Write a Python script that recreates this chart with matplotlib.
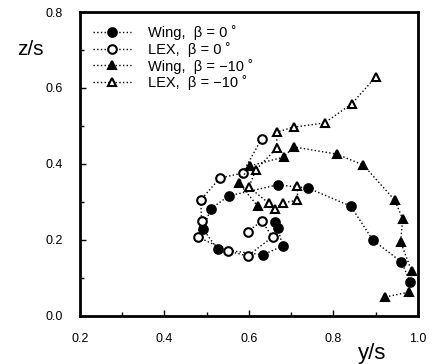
import matplotlib.pyplot as plt
from matplotlib.ticker import MultipleLocator

plt.rcParams['font.family'] = ['Liberation Sans', 'DejaVu Sans']

# Wing, beta = 0 (filled circles)
wing0_y = [0.982, 0.961, 0.893, 0.841, 0.739, 0.668, 0.552, 0.510, 0.491, 0.526, 0.633, 0.680, 0.668, 0.662]
wing0_z = [0.089, 0.142, 0.200, 0.289, 0.337, 0.345, 0.316, 0.282, 0.229, 0.176, 0.161, 0.184, 0.232, 0.248]

# LEX, beta = 0 (open circles)
lex0_y = [0.630, 0.585, 0.531, 0.486, 0.488, 0.479, 0.550, 0.597, 0.656, 0.630, 0.597]
lex0_z = [0.466, 0.376, 0.363, 0.305, 0.250, 0.208, 0.171, 0.158, 0.208, 0.250, 0.221]

# Wing, beta = -10 (filled triangles)
wing10_y = [0.923, 0.980, 0.985, 0.959, 0.964, 0.945, 0.871, 0.808, 0.706, 0.682, 0.602, 0.576, 0.621]
wing10_z = [0.050, 0.063, 0.118, 0.195, 0.255, 0.305, 0.397, 0.426, 0.445, 0.418, 0.395, 0.350, 0.289]

# LEX, beta = -10 (open triangles)
lex10_y = [0.900, 0.843, 0.779, 0.706, 0.666, 0.666, 0.616, 0.600, 0.647, 0.661, 0.680, 0.715, 0.715]
lex10_z = [0.629, 0.558, 0.508, 0.497, 0.484, 0.442, 0.384, 0.339, 0.297, 0.282, 0.297, 0.305, 0.342]

labels = ['Wing,  β = 0 ˚', 'LEX,  β = 0 ˚', 'Wing,  β = −10 ˚', 'LEX,  β = −10 ˚']

fig = plt.figure(figsize=(4.34, 3.64), dpi=100)
ax = fig.add_axes([0.184, 0.132, 0.779, 0.835])

common = dict(color='black', linestyle=':', linewidth=1.0, markersize=6.2, markeredgewidth=1.5)
ax.plot(wing0_y, wing0_z, marker='o', markerfacecolor='black', label=labels[0], **common)
ax.plot(lex0_y, lex0_z, marker='o', markerfacecolor='white', label=labels[1], **common)
ax.plot(wing10_y, wing10_z, marker='^', markerfacecolor='black', label=labels[2], **common)
ax.plot(lex10_y, lex10_z, marker='^', markerfacecolor='white', label=labels[3], **common)

ax.set_xlim(0.2, 1.0)
ax.set_ylim(0.0, 0.8)
ax.xaxis.set_minor_locator(MultipleLocator(0.1))
ax.yaxis.set_minor_locator(MultipleLocator(0.1))
ax.tick_params(which='both', direction='in', labelsize=9, pad=12, width=1)
ax.tick_params(which='major', length=4)
ax.tick_params(which='minor', length=3)
ax.set_xticks([0.2, 0.4, 0.6, 0.8, 1.0])
ax.set_xticklabels(['0.2', '0.4', '0.6', '0.8', '1.0'])
ax.set_yticks([0.0, 0.2, 0.4, 0.6, 0.8])
ax.set_yticklabels(['0.0', '0.2', '0.4', '0.6', '0.8'])
for s in ax.spines.values():
    s.set_linewidth(2)

fig.text(0.04, 0.85, 'z/s', fontsize=15)
fig.text(0.825, 0.015, 'y/s', fontsize=16)

ax.legend(loc='upper left', frameon=False, fontsize=10.5, handlelength=2.6,
          handletextpad=1.2, labelspacing=0.12, borderaxespad=0.5,
          borderpad=0.4)

fig.savefig('out.png', dpi=100)
